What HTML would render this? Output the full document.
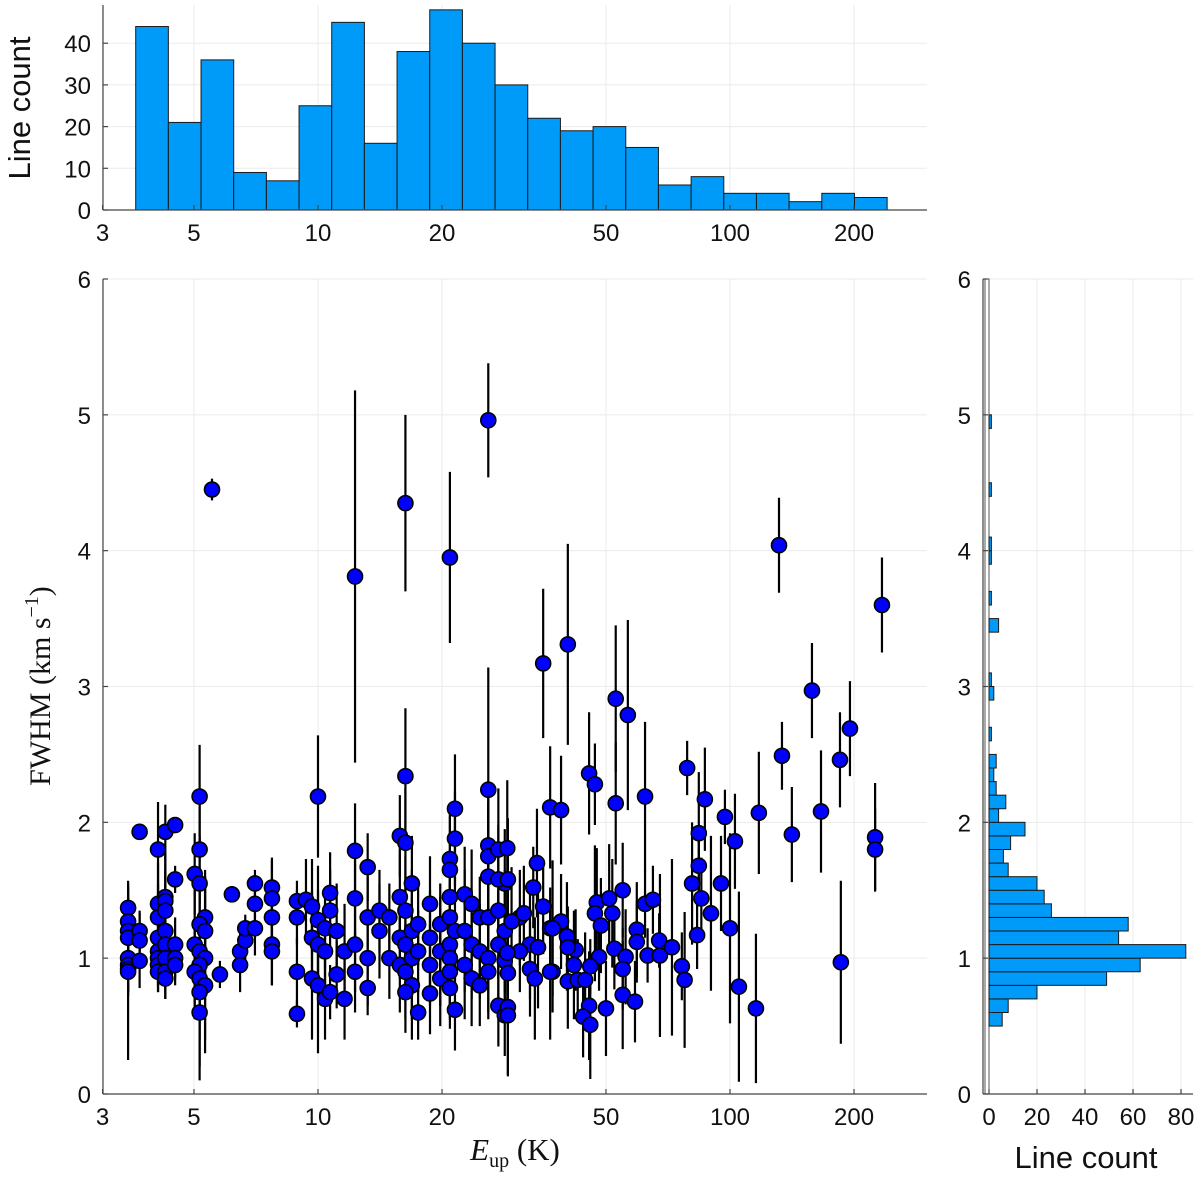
<!DOCTYPE html>
<html><head><meta charset="utf-8"><style>
html,body{margin:0;padding:0;background:#fff;}
svg{display:block;font-family:"Liberation Sans",sans-serif;}
</style></head><body>
<svg id="fig" width="1200" height="1179" viewBox="0 0 1200 1179"></svg>
<script>
// ---- data ----
const topCounts = [44,21,36,9,7,25,45,16,38,48,40,30,22,19,20,15,6,8,4,4,2,4,3];
const topBinStartE = 3.61;
const topBinLogWidth = 0.0793;
const rightBinStart = 0.5;
const rightBinWidth = 0.1;
const rightCounts = [5.5,8,20,49,63,82,54,58,26,23,20,8,6,9,15,4,7,3,2,3,0,1,0,0,2,1,0,0,0,4,0,1,0,0,1,1,0,0,0,1,0,0,0,0,1];
const xTicks = [3,5,10,20,50,100,200];
const yTicks = [0,1,2,3,4,5,6];
const topYTicks = [0,10,20,30,40];
const rightXTicks = [0,20,40,60,80];
const eup = [
3.46,3.46,3.46,3.46,3.46,3.46,3.46,3.46, 3.69,3.69,3.69,3.69,
4.09,4.09,4.09,4.09,4.09,4.09,4.09,4.09, 4.26,4.26,4.26,4.26,4.26,4.26,4.26,4.26,4.26,
4.5,4.5,4.5,4.5,4.5,
5.16,5.16,5.02,5.16,5.32,5.16,5.32,5.02,5.16,5.32,5.16,5.02,5.16,5.32,5.16,5.16,
5.53,5.78,6.18,6.47,6.47,6.66,6.66,7.03,7.03,7.03,
7.73,7.73,7.73,7.73,7.73, 8.89,8.89,8.89,8.89,
10,9.35,9.67,10,10.4,9.67,10,10.4,9.67,10,10.4,
10.7,11.1,10.7,11.6,11.1,10.7,11.6,
12.3,12.3,12.3,12.3,12.3, 13.2,13.2,13.2,13.2,
14.1,14.9,14.1,15.8,14.9,15.8,15.8,15.8,
16.3,16.3,16.3,16.9,16.3,16.9,16.3,16.9,16.3,16.9,16.3,
17.5,17.5,17.5, 18.7,19.8,18.7,19.8,18.7,19.8,18.7,
20.9,20.9,20.9,20.9,20.9,20.9,20.9,20.9,20.9,
21.5,21.5,21.5,21.5, 22.7,23.6,24.7,22.7,23.6,24.7,22.7,23.6,24.7,
25.9,25.9,25.9,25.9,25.9,25.9,25.9,25.9,
27.4,28.4,27.4,28.4,27.4,28.4,27.4,28.4,27.4,
30.9,32.7,30.9,32.7,
28.8,28.9,29.5,28.8,28.9,28.9,28.9,
31.6,33.3,34,35.2,36.6,37.1,38.9,40.2,40.4,42.2,42.7,41.8,40.4,44.5,36.6,33.6,37.1,34.2,
47.5,47,48.6,50.9,51.8,54.9,52.4,55.8,54.9,48.1,45.8,45.5,44,45.8,50,54.9,58.8,59.4,59.4,62.2,65,63.1,67.3,67.6,72.3,76.4,77.6,
45.5,47,36.6,38.9,52.8,62.2,78.7,86.9,97.2,102.8,117.5,133.7,141.3,166.3,184.9,225,225,
84,84,80.9,95.1,85.2,89.9,83.2,100,105.1,115.6,185.8,
35.2,40.4,52.8,56.5,158.1,131.5,233.8,195.5
];
const fwhm = [
1.37,1.27,1.2,1.15,1.0,0.95,0.92,0.9, 1.93,1.2,1.13,0.98,
1.8,1.4,1.3,1.15,1.05,1.0,0.95,0.9, 1.93,1.45,1.42,1.35,1.2,1.1,1.0,0.9,0.85,
1.98,1.58,1.1,1.0,0.95,
2.19,1.8,1.62,1.55,1.3,1.25,1.2,1.1,1.05,1.0,0.95,0.9,0.85,0.8,0.75,0.6,
4.45,0.88,1.47,1.05,0.95,1.13,1.22,1.55,1.4,1.22,
1.52,1.44,1.3,1.1,1.05, 1.42,1.3,0.9,0.59,
2.19,1.43,1.38,1.28,1.22,1.15,1.1,1.05,0.85,0.8,0.7,
1.35,1.2,1.48,1.05,0.88,0.75,0.7,
3.81,1.79,1.44,1.1,0.9, 1.67,1.3,1.0,0.78,
1.35,1.3,1.2,1.15,1.0,0.95,1.9,1.45,
4.35,2.34,1.85,1.55,1.35,1.2,1.1,1.0,0.9,0.8,0.75,
0.6,1.05,1.25, 1.4,1.25,1.15,1.05,0.95,0.85,0.74,
3.95,1.73,1.65,1.45,1.3,1.1,1.0,0.9,0.78,
2.1,1.88,1.2,0.62, 1.47,1.4,1.3,1.2,1.1,1.05,0.95,0.85,0.8,
4.96,2.24,1.83,1.75,1.6,1.3,1.0,0.9,
1.8,1.55,1.35,1.2,1.1,0.98,0.65,0.58,1.58,
1.3,1.1,1.05,0.92,
1.81,1.58,1.27,1.04,0.89,0.64,0.58,
1.33,1.52,1.7,1.38,1.22,0.9,1.27,1.16,0.83,1.06,0.84,0.95,1.08,0.84,0.9,0.85,1.22,1.08,
1.41,1.33,1.24,1.44,1.33,1.5,1.07,1.01,0.92,1.01,0.94,0.65,0.57,0.51,0.63,0.73,0.68,1.21,1.12,1.4,1.43,1.02,1.13,1.02,1.08,0.94,0.84,
2.36,2.28,2.11,2.09,2.14,2.19,2.4,2.17,2.04,1.86,2.07,2.49,1.91,2.08,2.46,1.89,1.8,
1.92,1.68,1.55,1.55,1.44,1.33,1.17,1.22,0.79,0.63,0.97,
3.17,3.31,2.91,2.79,2.97,4.04,3.6,2.69
];
const ferr = [
0.2,0.25,0.2,0.3,0.25,0.2,0.2,0.65, 0.05,0.15,0.2,0.2,
0.35,0.3,0.25,0.2,0.25,0.2,0.2,0.15, 0.2,0.3,0.35,0.3,0.25,0.2,0.25,0.2,0.15,
0.05,0.1,0.2,0.15,0.15,
0.38,0.4,0.3,0.35,0.35,0.4,0.4,0.45,0.5,0.6,0.4,0.35,0.45,0.5,0.55,0.5,
0.08,0.1,0.06,0.15,0.2,0.15,0.1,0.1,0.15,0.2,
0.2,0.3,0.25,0.3,0.25, 0.15,0.2,0.25,0.1,
0.45,0.3,0.35,0.4,0.3,0.35,0.4,0.35,0.45,0.5,0.3,
0.3,0.35,0.3,0.35,0.25,0.2,0.3,
1.37,0.35,0.3,0.35,0.3, 0.25,0.3,0.35,0.2,
0.3,0.25,0.35,0.3,0.3,0.35,0.3,0.35,
0.65,0.5,0.4,0.35,0.4,0.45,0.4,0.45,0.35,0.4,0.3,
0.2,0.3,0.3, 0.35,0.3,0.35,0.4,0.3,0.35,0.3,
0.63,0.35,0.4,0.35,0.4,0.45,0.4,0.35,0.3,
0.4,0.35,0.45,0.3, 0.35,0.4,0.3,0.45,0.4,0.35,0.4,0.35,0.3,
0.42,0.9,0.45,0.4,0.5,0.45,0.4,0.35,
0.45,0.4,0.5,0.45,0.4,0.35,0.3,0.3,0.4,
0.35,0.4,0.3,0.35,
0.5,0.45,0.4,0.45,0.4,0.5,0.45,
0.35,0.3,0.4,0.35,0.3,0.3,0.35,0.4,0.35,0.3,0.3,0.4,0.3,0.35,
0.5,0.45,0.5,0.45,0.4,0.5,0.35,0.4,0.4,0.35,0.3,0.35,0.3,0.25,0.2,0.4,0.3,0.4,0.35,0.4,0.3,0.35,0.3,0.25,0.25,0.2,0.2,
0.6,0.65,0.25,0.5,0.45,0.3,0.45,0.4,0.45,0.55,0.2,0.38,0.2,0.35,0.45,0.25,0.35,
0.45,0.35,0.4,0.3,0.45,0.3,0.45,0.35,0.3,0.57,0.25,
0.7,0.7,0.55,0.6,0.55,0.74,0.54,0.7
];
// ---- layout ----
const NS='http://www.w3.org/2000/svg';
const svg=document.getElementById('fig');
function mk(tag,attrs,parent){const e=document.createElementNS(NS,tag);for(const k in attrs)e.setAttribute(k,attrs[k]);(parent||svg).appendChild(e);return e;}
const M={l:103,r:927,t:279,b:1094};
const T={t:5,b:210};
const R={l:983,r:1193,x0:989,pxPer:2.4};
const xs=v=>318+(Math.log10(v)-1)*412;
const ys=v=>M.b-(v/6)*(M.b-M.t);
const tys=v=>T.b-v*4.17;
const rxs=v=>R.x0+v*R.pxPer;
const grid='#ebebeb';
const gMain=mk('g',{});


xTicks.forEach(t=>{mk('line',{x1:xs(t),x2:xs(t),y1:M.t,y2:M.b,stroke:grid,'stroke-width':1},gMain);mk('line',{x1:xs(t),x2:xs(t),y1:T.t,y2:T.b,stroke:grid,'stroke-width':1},gMain);});
yTicks.forEach(t=>{mk('line',{x1:M.l,x2:M.r,y1:ys(t),y2:ys(t),stroke:grid},gMain);mk('line',{x1:R.l,x2:R.r,y1:ys(t),y2:ys(t),stroke:grid},gMain);});
topYTicks.forEach(t=>mk('line',{x1:M.l,x2:M.r,y1:tys(t),y2:tys(t),stroke:grid},gMain));
rightXTicks.forEach(t=>mk('line',{x1:rxs(t),x2:rxs(t),y1:M.t,y2:M.b,stroke:grid},gMain));
const gTop=mk('g',{});


topCounts.forEach((c,i)=>{
  const e0=topBinStartE*Math.pow(10,i*topBinLogWidth), e1=topBinStartE*Math.pow(10,(i+1)*topBinLogWidth);
  const r=mk('rect',{x:xs(e0),y:tys(c),width:xs(e1)-xs(e0),height:tys(0)-tys(c),fill:'#009af9',stroke:'#1a1a1a','stroke-width':1},gTop);
  
  
});
const gRight=mk('g',{});


mk('rect',{x:R.x0-4,y:M.t,width:4,height:M.b-M.t,fill:'none',stroke:'#555','stroke-width':1},gRight);
rightCounts.forEach((c,i)=>{
  if(c<=0)return;
  const v0=rightBinStart+i*rightBinWidth,v1=v0+rightBinWidth;
  const r=mk('rect',{x:R.x0,y:ys(v1),width:rxs(c)-R.x0,height:ys(v0)-ys(v1),fill:'#009af9',stroke:'#1a1a1a','stroke-width':1},gRight);
  
  
});
const gErr=mk('g',{});


const gPts=mk('g',{});


const n=Math.min(eup.length,fwhm.length);
for(let i=0;i<n;i++){
  const x=xs(eup[i]);
  const er=(ferr[i]!==undefined)?ferr[i]:0.35;
  const l=mk('line',{x1:x,x2:x,y1:ys(Math.min(6,fwhm[i]+er)),y2:ys(Math.max(0,fwhm[i]-er)),stroke:'#000','stroke-width':2.2},gErr);
  
  
}
for(let i=0;i<n;i++){
  const c=mk('circle',{cx:xs(eup[i]),cy:ys(fwhm[i]),r:7.5,fill:'#0000ff',stroke:'#000','stroke-width':1.6},gPts);
  
  
}
const ax=mk('g',{stroke:'#444','stroke-width':1.2});


mk('line',{x1:M.l,x2:M.l,y1:M.t,y2:M.b},ax);mk('line',{x1:M.l,x2:M.r,y1:M.b,y2:M.b},ax);
mk('line',{x1:M.l,x2:M.l,y1:T.t,y2:T.b},ax);mk('line',{x1:M.l,x2:M.r,y1:T.b,y2:T.b},ax);
mk('line',{x1:R.l,x2:R.l,y1:M.t,y2:M.b},ax);mk('line',{x1:R.l,x2:R.r,y1:M.b,y2:M.b},ax);
const tl=mk('g',{'font-size':24,fill:'#111'});


function txt(s,x,y,anchor,p){const t=mk('text',{x,y,'text-anchor':anchor},p||tl);t.textContent=s;return t;}
xTicks.forEach(t=>{mk('line',{x1:xs(t),x2:xs(t),y1:M.b,y2:M.b-5},ax);mk('line',{x1:xs(t),x2:xs(t),y1:T.b,y2:T.b-5},ax);
  const a=txt(String(t),xs(t),M.b+31,'middle');
  const b=txt(String(t),xs(t),T.b+31,'middle');});
yTicks.forEach(t=>{mk('line',{x1:M.l,x2:M.l+5,y1:ys(t),y2:ys(t)},ax);mk('line',{x1:R.l,x2:R.l+5,y1:ys(t),y2:ys(t)},ax);
  const a=txt(String(t),M.l-12,ys(t)+9,'end');
  const b=txt(String(t),R.l-12,ys(t)+9,'end');});
topYTicks.forEach(t=>{mk('line',{x1:M.l,x2:M.l+5,y1:tys(t),y2:tys(t)},ax);
  const a=txt(String(t),M.l-12,tys(t)+9,'end');});
rightXTicks.forEach(t=>{mk('line',{x1:rxs(t),x2:rxs(t),y1:M.b,y2:M.b-5},ax);
  const a=txt(String(t),rxs(t),M.b+31,'middle');});
</script>
<div style="position:absolute;left:0;top:0;width:1200px;height:1179px;pointer-events:none;">
<svg width="1200" height="1179" style="position:absolute;left:0;top:0">
<text x="30" y="108" transform="rotate(-90 30 108)" text-anchor="middle" font-family="Liberation Sans, sans-serif" font-size="31" fill="#111">Line count</text>
<text x="50" y="686" transform="rotate(-90 50 686)" text-anchor="middle" font-family="Liberation Serif, serif" font-size="30" fill="#111">FWHM (km s<tspan dy="-12" font-size="20">−1</tspan><tspan dy="12">)</tspan></text>
<text x="515" y="1160" text-anchor="middle" font-family="Liberation Serif, serif" font-size="31" fill="#111"><tspan font-style="italic">E</tspan><tspan dy="7" font-size="20">up</tspan><tspan dy="-7"> (K)</tspan></text>
<text x="1086" y="1168" text-anchor="middle" font-family="Liberation Sans, sans-serif" font-size="31" fill="#111">Line count</text>
</svg></div>
</body></html>
